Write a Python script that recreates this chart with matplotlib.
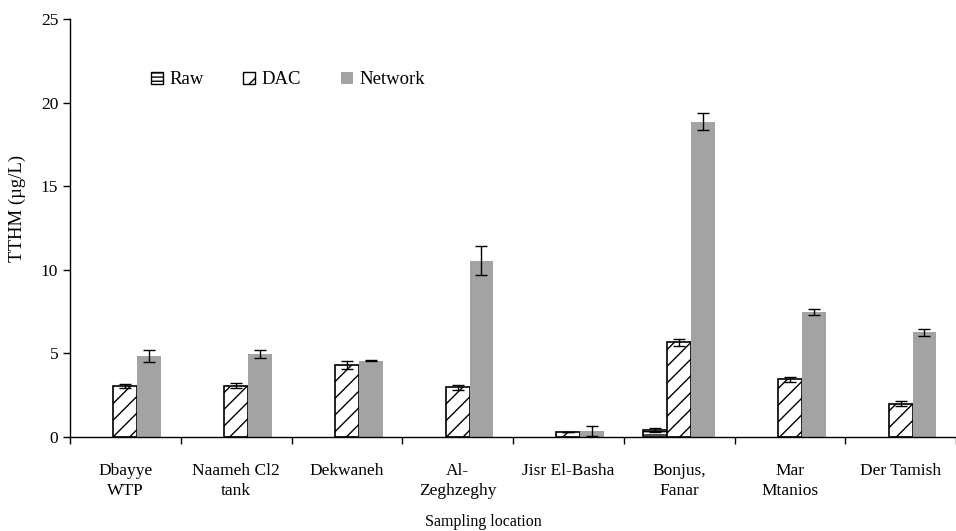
import matplotlib
matplotlib.use("Agg")
import matplotlib.pyplot as plt
import numpy as np
from matplotlib.patches import Patch

plt.rcParams['font.family'] = ['Liberation Serif', 'DejaVu Serif']
plt.rcParams['hatch.linewidth'] = 1.0

categories = ["Dbayye\nWTP", "Naameh Cl2\ntank", "Dekwaneh", "Al-\nZeghzeghy",
              "Jisr El-Basha", "Bonjus,\nFanar", "Mar\nMtanios", "Der Tamish"]
raw = [0, 0, 0, 0, 0, 0.44, 0, 0]
raw_err = [0, 0, 0, 0, 0, 0.12, 0, 0]
dac = [3.05, 3.07, 4.33, 2.97, 0.28, 5.66, 3.45, 1.99]
dac_err = [0.1, 0.15, 0.24, 0.15, 0.0, 0.2, 0.14, 0.14]
network = [4.85, 4.98, 4.55, 10.55, 0.36, 18.86, 7.47, 6.26]
network_err = [0.35, 0.25, 0.03, 0.85, 0.3, 0.52, 0.19, 0.22]

fig = plt.figure(figsize=(9.56, 5.31), dpi=100)
ax = fig.add_axes([70/956, 1-437/531, 1-70/956, (437-19)/531])

x = np.arange(len(categories))
w = 0.215
gray = '#a3a3a3'
ekw = dict(ecolor='black', capsize=4.5, elinewidth=1.0, capthick=1.0)

raw_mask = np.array(raw) > 0
ax.bar(x[raw_mask] - w, np.array(raw)[raw_mask], w, facecolor='white', edgecolor='black',
       hatch='-----', linewidth=1.2, yerr=np.array(raw_err)[raw_mask], error_kw=ekw, zorder=2)
ax.bar(x, dac, w, facecolor='white', edgecolor='black', hatch='//', linewidth=1.2,
       yerr=dac_err, error_kw=ekw, zorder=2)
ax.bar(x + w, network, w, facecolor=gray, edgecolor='none',
       yerr=network_err, error_kw=ekw, zorder=2)

ax.set_xlim(-0.5, -0.5 + 886/111.7)
ax.set_ylim(0, 25)
ax.set_yticks([0, 5, 10, 15, 20, 25])
ax.set_xticks(x)
ax.set_xticklabels(categories, fontsize=12.5, linespacing=1.3)
ax.set_xticks(np.arange(-0.5, len(categories)), minor=True)
ax.tick_params(axis='x', which='major', length=0, pad=19)
ax.tick_params(axis='x', which='minor', length=5, width=1, direction='out')
ax.tick_params(axis='y', length=5, width=1, direction='out', labelsize=12.5)
for s in ['top', 'right']:
    ax.spines[s].set_visible(False)
for s in ['left', 'bottom']:
    ax.spines[s].set_linewidth(1.0)

ax.set_ylabel("TTHM (µg/L)", fontsize=13.5)
ax.yaxis.set_label_coords(-44/886, (437-208)/418)
fig.text(483/956, 1-522/531, "Sampling location", ha='center', va='center', fontsize=11.5)

handles = [Patch(facecolor='white', edgecolor='black', hatch='----', label='Raw'),
           Patch(facecolor='white', edgecolor='black', hatch='//', label='DAC'),
           Patch(facecolor=gray, edgecolor='none', label='Network')]
fig.legend(handles=handles, ncol=3, frameon=False, loc='center left',
           bbox_to_anchor=(145/956, 1-80/531), handlelength=0.65, handleheight=0.65,
           handletextpad=0.35, columnspacing=2.1, fontsize=13.5, borderaxespad=0,
           borderpad=0.3)

fig.savefig("out.png", dpi=100)
